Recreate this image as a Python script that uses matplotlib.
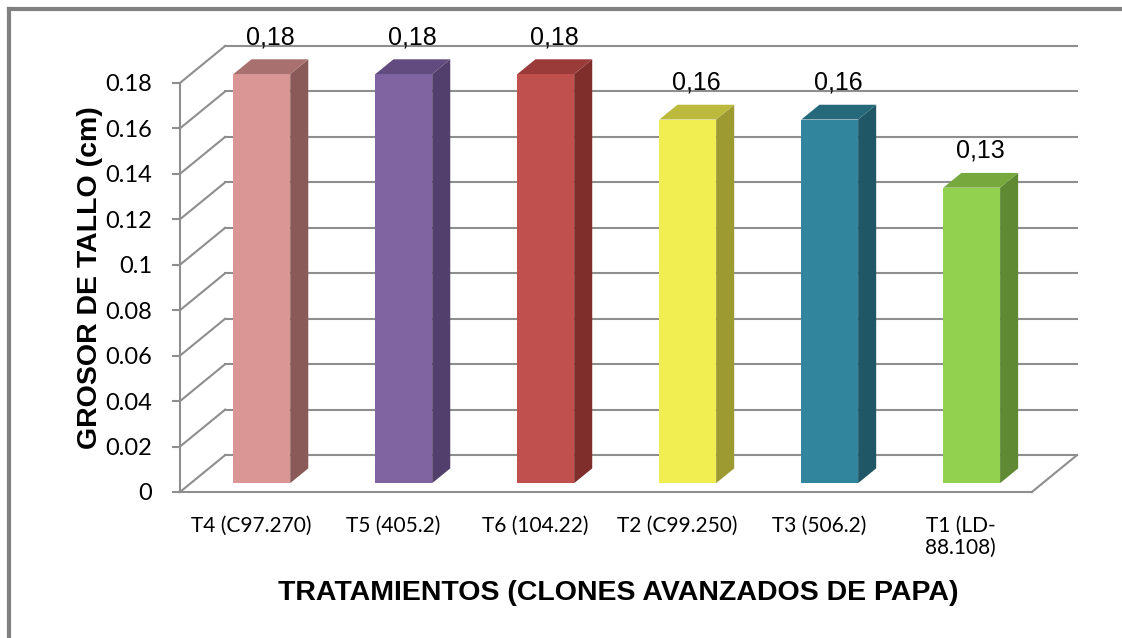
import matplotlib.pyplot as plt
from matplotlib.patches import Polygon, Rectangle
from matplotlib.lines import Line2D

#-------------------------------------------------------------------------------
# stem thickness per clone, drawn as Excel style 3D columns

categories = ['T4 (C97.270)', 'T5 (405.2)', 'T6 (104.22)', 'T2 (C99.250)',
              'T3 (506.2)', 'T1 (LD-\n88.108)']
values = [0.18, 0.18, 0.18, 0.16, 0.16, 0.13]
value_labels = ['0,18', '0,18', '0,18', '0,16', '0,16', '0,13']
yticks = [0, 0.02, 0.04, 0.06, 0.08, 0.1, 0.12, 0.14, 0.16, 0.18]
ytick_labels = ['0', '0.02', '0.04', '0.06', '0.08', '0.1', '0.12', '0.14',
                '0.16', '0.18']

front_colors = ['#D99694', '#8064A2', '#C0504D', '#F0EE50', '#31859C', '#92D050']
top_colors = ['#A8716F', '#624C7F', '#9A3B39', '#BCBA3C', '#25697A', '#76A83E']
side_colors = ['#8A5A59', '#533F6B', '#7F2E2C', '#9C9A30', '#1F5766', '#5F8A33']

#-------------------------------------------------------------------------------

W, H = 1122, 638
DX = 0.318      # depth shift in category units
DY = 0.01624    # depth shift in value units
F0, F1 = 0.24, 0.64   # front / back depth fraction of the columns
HALF = 0.2
GRID = '#8E8E8E'

fig = plt.figure(figsize=(W / 100, H / 100), dpi=100)
ax = fig.add_axes([180 / W, (H - 492) / H, (1077 - 180) / W, (492 - 46) / H])
ax.set_xlim(-0.5, 5.5 + DX)
ax.set_ylim(0, 0.18 + DY)
ax.patch.set_visible(False)

# walls and floor
for y in yticks:
    ax.plot([-0.5 + DX, 5.5 + DX], [y + DY, y + DY], color=GRID, lw=1.5,
            clip_on=False, zorder=1)
    ax.plot([-0.5, -0.5 + DX], [y, y + DY], color=GRID, lw=1.5,
            clip_on=False, zorder=1)
ax.plot([-0.5, 5.5], [0, 0], color=GRID, lw=1.5, clip_on=False, zorder=1)
ax.plot([5.5, 5.5 + DX], [0, DY], color=GRID, lw=1.5, clip_on=False, zorder=1)

# columns
for i, v in enumerate(values):
    x0 = i - HALF + F0 * DX
    x1 = i + HALF + F0 * DX
    y0 = F0 * DY
    sx = (F1 - F0) * DX
    sy = (F1 - F0) * DY
    ax.add_patch(Rectangle((x0, y0), x1 - x0, v, facecolor=front_colors[i],
                           edgecolor='none', zorder=3))
    ax.add_patch(Polygon([(x1, y0), (x1 + sx, y0 + sy), (x1 + sx, y0 + sy + v),
                          (x1, y0 + v)], closed=True, facecolor=side_colors[i],
                         edgecolor='none', zorder=3))
    ax.add_patch(Polygon([(x0, y0 + v), (x1, y0 + v), (x1 + sx, y0 + sy + v),
                          (x0 + sx, y0 + sy + v)], closed=True,
                         facecolor=top_colors[i], edgecolor='none', zorder=3))
    ax.annotate(value_labels[i], xy=(i + (F0 + F1) / 2 * DX, v + F1 * DY),
                xytext=(0, 16), textcoords='offset points', ha='center',
                va='center', fontsize=18, family='Liberation Sans', zorder=4)

# front value axis
for s in ['top', 'right', 'bottom']:
    ax.spines[s].set_visible(False)
ax.spines['left'].set_bounds(0, 0.18)
ax.spines['left'].set_color(GRID)
ax.spines['left'].set_linewidth(1.5)
ax.set_yticks(yticks)
ax.set_yticklabels(ytick_labels, family='Lato', fontsize=17)
ax.tick_params(axis='y', length=6, width=1.5, color=GRID, pad=14)

ax.set_xticks(range(len(categories)))
ax.set_xticklabels(categories, family='Lato', fontsize=15, va='top',
                   linespacing=1.15)
ax.tick_params(axis='x', length=0, pad=17)

fig.text(618 / W, 1 - 593 / H, 'TRATAMIENTOS (CLONES AVANZADOS DE PAPA)',
         ha='center', va='center', fontsize=20.5, fontweight='bold',
         family='Liberation Sans')
fig.text(90 / W, 1 - 278 / H, 'GROSOR DE TALLO (cm)', rotation=90,
         ha='center', va='center', fontsize=20.5, fontweight='bold',
         family='Liberation Sans')

# chart area border
fig.add_artist(Line2D([9 / W, 9 / W], [0, 1 - 9 / H], color='#808080', lw=3,
                      transform=fig.transFigure))
fig.add_artist(Line2D([9 / W, 1], [1 - 9 / H, 1 - 9 / H], color='#808080',
                      lw=3, transform=fig.transFigure))

fig.savefig('out.png', dpi=100)
